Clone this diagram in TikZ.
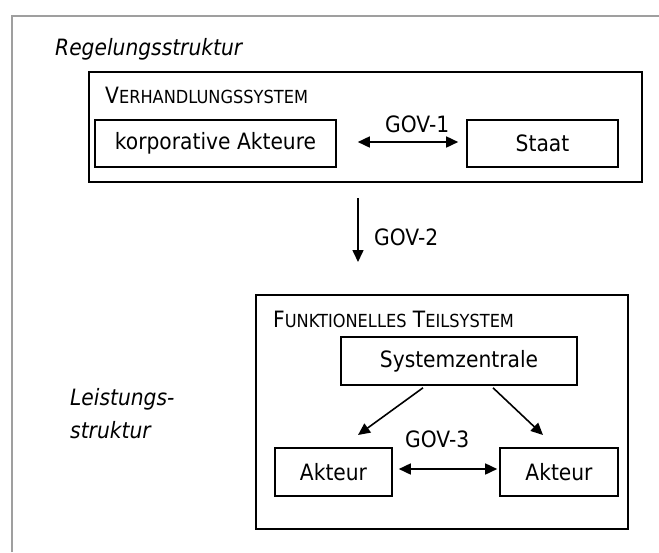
\documentclass[tikz,border=0pt]{standalone}
\usepackage{fontspec}
\setmainfont{DejaVu Sans}[FakeStretch=0.9]
\usetikzlibrary{arrows.meta}

\newcommand{\bigfont}{\fontsize{22.5}{27}\selectfont}
\newcommand{\scfont}{\fontsize{18}{22}\selectfont}

\tikzset{
  box/.style={draw, line width=1.6pt, inner sep=0pt},
  lbl/.style={anchor=base west, inner sep=0pt},
  arr/.style={line width=1.6pt, -{Triangle[length=12pt,width=11pt]}},
  darr/.style={line width=1.6pt, {Triangle[length=12pt,width=11pt]}-{Triangle[length=12pt,width=11pt]}},
}

\begin{document}
\begin{tikzpicture}[x=1pt, y=-1pt, font=\bigfont]
  \useasboundingbox (0,0) rectangle (659,552);
  \draw[gray!75, line width=2pt] (12,552) -- (12,16) -- (659,16);

  % Regelungsstruktur
  \node[lbl, font=\bigfont\itshape] (regel) at (55,55) {Regelungsstruktur};
  \node[box, minimum width=553pt, minimum height=110pt] (vhs) at (365.5,127) {};
  \node[lbl] (vhslbl) at (105,103) {V{\scfont ERHANDLUNGSSYSTEM}};
  \node[box, minimum width=241pt, minimum height=47pt] (korp) at (215.5,143.5) {korporative Akteure};
  \node[box, minimum width=151pt, minimum height=47pt] (staat) at (542.5,143.5) {Staat};
  \draw[darr] ([xshift=21pt,yshift=1.5pt]korp.east) -- ([xshift=-8pt,yshift=1.5pt]staat.west);
  \node[lbl] (gov1) at (385,132) {GOV-1};

  \coordinate (g2a) at (358,198);
  \coordinate (g2b) at (358,262);
  \draw[arr] (g2a) -- (g2b);
  \node[lbl] (gov2) at (374,245) {GOV-2};

  % Leistungsstruktur
  \node[lbl, font=\bigfont\itshape] (leist1) at (70,405) {Leistungs-};
  \node[lbl, font=\bigfont\itshape] (leist2) at (70,438) {struktur};
  \node[box, minimum width=372pt, minimum height=234pt] (fts) at (442,412) {};
  \node[lbl] (ftslbl) at (273,327) {F{\scfont UNKTIONELLES} T{\scfont EILSYSTEM}};
  \node[box, minimum width=236pt, minimum height=48pt] (sz) at (459,361) {Systemzentrale};
  \node[box, minimum width=117pt, minimum height=48pt] (akl) at (333.5,472) {Akteur};
  \node[box, minimum width=118pt, minimum height=48pt] (akr) at (559,472) {Akteur};
  \coordinate (pl) at (358,435);
  \coordinate (pr) at (543,435);
  \draw[arr] ([xshift=-36pt,yshift=-2pt]sz.south) -- (pl);
  \draw[arr] ([xshift=34pt,yshift=-2pt]sz.south) -- (pr);
  \draw[darr] ([xshift=6pt,yshift=3pt]akl.east) -- ([xshift=-2pt,yshift=3pt]akr.west);
  \node[lbl] (gov3) at (405,447) {GOV-3};
\end{tikzpicture}
\end{document}
